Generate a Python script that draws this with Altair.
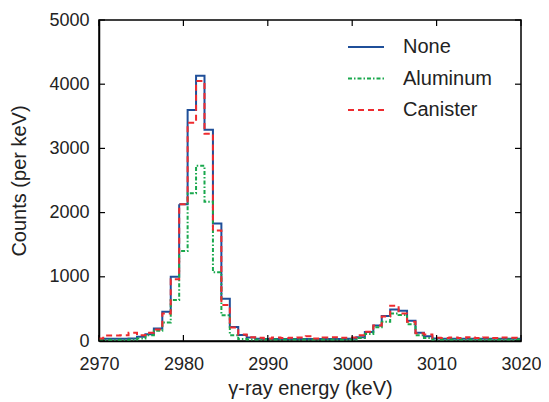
import altair as alt
import pandas as pd

energy = list(range(2970, 3021))

none_counts = [30, 35, 35, 35, 40, 65, 105, 195, 455, 1000,
               2130, 3600, 4130, 3290, 1830, 660, 220, 95, 55, 35,
               30, 30, 30, 30, 30, 30, 30, 30, 30, 30,
               35, 60, 140, 240, 390, 490, 470, 316, 130, 75,
               40, 35, 35, 35, 35, 35, 35, 35, 35, 35, 35]

aluminum_counts = [15, 20, 20, 20, 25, 40, 90, 160, 290, 640,
                   1400, 2300, 2730, 2170, 1070, 400, 90, 30, 25, 25,
                   25, 25, 25, 25, 25, 25, 25, 25, 25, 25,
                   25, 45, 110, 215, 300, 430, 405, 260, 90, 45,
                   25, 25, 25, 25, 25, 25, 25, 25, 25, 25, 25]

canister_counts = [40, 85, 85, 90, 130, 90, 130, 180, 430, 960,
                   2130, 3400, 4050, 3230, 1720, 560, 210, 100, 60, 50,
                   40, 55, 45, 50, 55, 75, 40, 55, 60, 50,
                   55, 90, 145, 240, 380, 550, 430, 300, 120, 100,
                   50, 45, 55, 45, 60, 45, 55, 45, 55, 50, 45]

series_names = ["None", "Aluminum", "Canister"]
series_colors = ["#1f4f99", "#19a84d", "#ee2b2f"]
series_dashes = [[1, 0], [4, 2, 1.5, 2], [6, 4]]

x_ticks = [2970, 2980, 2990, 3000, 3010, 3020]
y_ticks = [0, 1000, 2000, 3000, 4000, 5000]

rows = []
for name, vals in zip(series_names, [none_counts, aluminum_counts, canister_counts]):
    for e, v in zip(energy, vals):
        rows.append({"energy": e, "counts": v, "series": name})
df = pd.DataFrame(rows)

W, H = 422, 321
FONT = "Liberation Sans"

xscale = alt.Scale(domain=[2970, 3020], nice=False, zero=False)
yscale = alt.Scale(domain=[0, 5000], nice=False)

xaxis = alt.Axis(values=x_ticks, title="γ-ray energy (keV)", ticks=False,
                 labelPadding=14, titlePadding=5, grid=False, format="d",
                 labelFlush=False, labelOverlap=False)
yaxis = alt.Axis(values=y_ticks, title="Counts (per keV)", ticks=False,
                 labelPadding=10, titlePadding=19, grid=False, format="d",
                 labelFlush=False, labelOverlap=False)

leg = alt.Legend(title=None, orient="none", legendX=248, legendY=17,
                 symbolType="stroke", symbolSize=1296, clipHeight=20,
                 symbolStrokeWidth=2, labelFontSize=20,
                 labelFont=FONT, labelColor="#222",
                 labelOffset=18, rowPadding=11.5, padding=0)

lines = alt.Chart(df).mark_line(interpolate="step", clip=True, strokeWidth=2).encode(
    x=alt.X("energy:Q", scale=xscale, axis=xaxis),
    y=alt.Y("counts:Q", scale=yscale, axis=yaxis),
    color=alt.Color("series:N", sort=series_names,
                    scale=alt.Scale(domain=series_names, range=series_colors),
                    legend=leg),
    strokeDash=alt.StrokeDash("series:N", sort=series_names,
                              scale=alt.Scale(domain=series_names, range=series_dashes),
                              legend=leg),
    order=alt.Order("series_order:Q"),
).transform_calculate(
    series_order="indexof(['None','Aluminum','Canister'], datum.series)"
)

xt = pd.DataFrame({"energy": x_ticks})
yt = pd.DataFrame({"counts": y_ticks})
TL = 6
bottom_ticks = alt.Chart(xt).mark_rule(color="black", strokeWidth=1.2).encode(
    x=alt.X("energy:Q", scale=xscale, axis=xaxis), y=alt.value(H), y2=alt.value(H - TL))
top_ticks = alt.Chart(xt).mark_rule(color="black", strokeWidth=1.2).encode(
    x=alt.X("energy:Q", scale=xscale, axis=xaxis), y=alt.value(0), y2=alt.value(TL))
left_ticks = alt.Chart(yt).mark_rule(color="black", strokeWidth=1.2).encode(
    y=alt.Y("counts:Q", scale=yscale, axis=yaxis), x=alt.value(0), x2=alt.value(TL))
right_ticks = alt.Chart(yt).mark_rule(color="black", strokeWidth=1.2).encode(
    y=alt.Y("counts:Q", scale=yscale, axis=yaxis), x=alt.value(W), x2=alt.value(W - TL))

chart = alt.layer(lines, bottom_ticks, top_ticks, left_ticks, right_ticks).properties(
    width=W, height=H,
    autosize=alt.AutoSizeParams(type="none"),
    padding={"left": 91, "top": 12, "right": 20, "bottom": 60},
).configure_view(
    stroke="black", strokeWidth=1.5
).configure_axis(
    labelFont=FONT, titleFont=FONT, labelFontSize=18, titleFontSize=20,
    labelColor="#222", titleColor="#222", titleFontWeight="normal",
    domainColor="black", domainWidth=1.5
)

chart.save("out.html", embed_options={"renderer": "svg", "actions": False})
